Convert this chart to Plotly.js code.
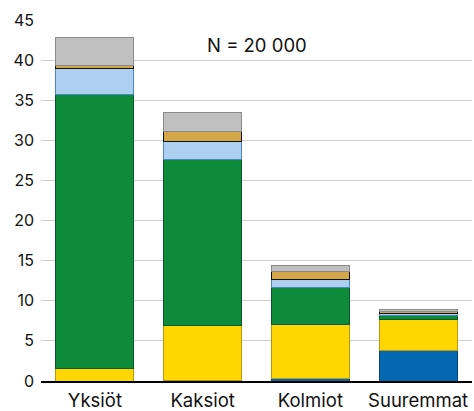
<!DOCTYPE html>
<html><head><meta charset="utf-8">
<script src="https://cdn.plot.ly/plotly-3.0.1.min.js"></script>
<style>body{margin:0;padding:0;background:#fff}#chart{width:474px;height:411px}</style>
</head><body><div id="chart"></div>
<script>
const categories = ["Yksiöt", "Kaksiot", "Kolmiot", "Suuremmat"];
const blueVals = [0, 0.1, 0.3, 3.75];
const yellowVals = [1.5, 6.8, 6.7, 3.95];
const greenVals = [34.2, 20.7, 4.7, 0.45];
const lightBlueVals = [3.3, 2.25, 0.9, 0.3];
const tanVals = [0.3, 1.25, 1.0, 0.25];
const grayVals = [3.5, 2.35, 0.85, 0.25];
const yTicks = [0, 5, 10, 15, 20, 25, 30, 35, 40, 45];

const series = [
  {v: blueVals, fill: "#0467b1", line: "#03457a"},
  {v: yellowVals, fill: "#ffd600", line: "#b39a10"},
  {v: greenVals, fill: "#0d8a3a", line: "#0a5a28"},
  {v: lightBlueVals, fill: "#aed0f0", line: "#4a86c0"},
  {v: tanVals, fill: "#d4a64a", line: "#111111"},
  {v: grayVals, fill: "#c0c0c0", line: "#8a8a8a"}
];
const traces = series.map(s => ({
  type: "bar", x: categories, y: s.v,
  marker: {color: s.fill, line: {color: s.line, width: 1}},
  width: 0.725, hoverinfo: "none"
}));
const layout = {
  width: 474, height: 411,
  margin: {l: 41, r: 2, t: 20, b: 30},
  barmode: "stack", showlegend: false,
  paper_bgcolor: "#fff", plot_bgcolor: "#fff",
  font: {family: "Inter, Liberation Sans, sans-serif", size: 15, color: "#111"},
  xaxis: {showgrid: false, showline: true, linecolor: "#000", linewidth: 2, ticks: "", tickfont: {size: 18.5}, ticklabelstandoff: 2},
  yaxis: {range: [0, 45], tickvals: yTicks, ticktext: yTicks.map(String), showgrid: true, gridcolor: "#cfcfcf", gridwidth: 1, zeroline: false, ticks: "", ticklabelstandoff: 6, tickfont: {size: 16}},
  annotations: [{x: 1.5, y: 41.9, xref: "x", yref: "y", text: "N = 20 000", showarrow: false, font: {size: 18.5, color: "#111"}}]
};
Plotly.newPlot("chart", traces, layout, {displayModeBar: false, staticPlot: true});
</script></body></html>
